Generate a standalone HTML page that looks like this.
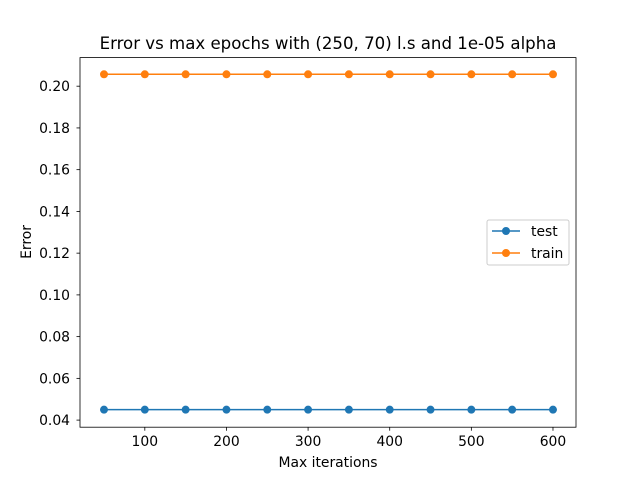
<!DOCTYPE html>
<html><head><meta charset="utf-8"><style>
body{margin:0;background:#fff}
text{font-family:"DejaVu Sans","Liberation Sans",sans-serif;fill:#000}
</style></head><body>
<svg id="chart" width="640" height="480" xmlns="http://www.w3.org/2000/svg">
<rect width="640" height="480" fill="#fff"/>
<text x="328" y="49" font-size="16.6" text-anchor="middle">Error vs max epochs with (250, 70) l.s and 1e-05 alpha</text>
<g id="plot"></g>
<text x="328" y="467" font-size="13.9" text-anchor="middle">Max iterations</text>
<text transform="translate(31,242) rotate(-90)" font-size="13.9" text-anchor="middle">Error</text>
</svg>
<script>
const epochs=[50,100,150,200,250,300,350,400,450,500,550,600];
const testErr=[0.045,0.045,0.045,0.045,0.045,0.045,0.045,0.045,0.045,0.045,0.045,0.045];
const trainErr=[0.2057,0.2057,0.2057,0.2057,0.2057,0.2057,0.2057,0.2057,0.2057,0.2057,0.2057,0.2057];
const xTicks=[100,200,300,400,500,600];
const yTicks=[0.04,0.06,0.08,0.10,0.12,0.14,0.16,0.18,0.20];
const L=80,R=576,T=57.6,B=427.2;
const xmin=20.6,xmax=628.2;
const yTopVal=0.2137,yBotVal=0.0366;
const sx=v=>L+(v-xmin)/(xmax-xmin)*(R-L);
const sy=v=>B-(v-yBotVal)/(yTopVal-yBotVal)*(B-T);
const NS="http://www.w3.org/2000/svg";
const g=document.getElementById('plot');
function mk(t,a){const e=document.createElementNS(NS,t);for(const k in a)e.setAttribute(k,a[k]);g.appendChild(e);return e;}
xTicks.forEach(v=>{
 const l=mk('line',{x1:sx(v),x2:sx(v),y1:B,y2:B+3.5,stroke:'#000','stroke-width':0.8});
 
 
 const t=mk('text',{x:sx(v),y:B+19,'font-size':13.9,'text-anchor':'middle'});t.textContent=v;
 
 
});
yTicks.forEach(v=>{
 const l=mk('line',{x1:L-3.5,x2:L,y1:sy(v),y2:sy(v),stroke:'#000','stroke-width':0.8});
 
 
 const t=mk('text',{x:L-10,y:sy(v)+5,'font-size':13.9,'text-anchor':'end'});t.textContent=v.toFixed(2);
 
 
});
function series(vals,color,name){
 const p=mk('polyline',{points:epochs.map((x,i)=>sx(x)+','+sy(vals[i])).join(' '),fill:'none',stroke:color,'stroke-width':1.5});
 
 
 epochs.forEach((x,i)=>{
  const c=mk('circle',{cx:sx(x),cy:sy(vals[i]),r:4,fill:color});
  
  
 });
}
series(testErr,'#1f77b4','test');
series(trainErr,'#ff7f0e','train');
const fr=mk('rect',{x:L,y:T,width:R-L,height:B-T,fill:'none',stroke:'#000','stroke-width':0.8});


const lg=mk('rect',{x:487,y:220,width:82,height:45,rx:2,fill:'#fff',stroke:'#ccc','stroke-width':1});


[['test','#1f77b4',231],['train','#ff7f0e',253]].forEach(([n,c,y])=>{
 const l=mk('line',{x1:492,x2:520,y1:y,y2:y,stroke:c,'stroke-width':1.5});
 
 
 const m=mk('circle',{cx:506,cy:y,r:4,fill:c});
 
 
 const t=mk('text',{x:531,y:y+5,'font-size':13.9});t.textContent=n;
 
 
});
</script>
</body></html>
